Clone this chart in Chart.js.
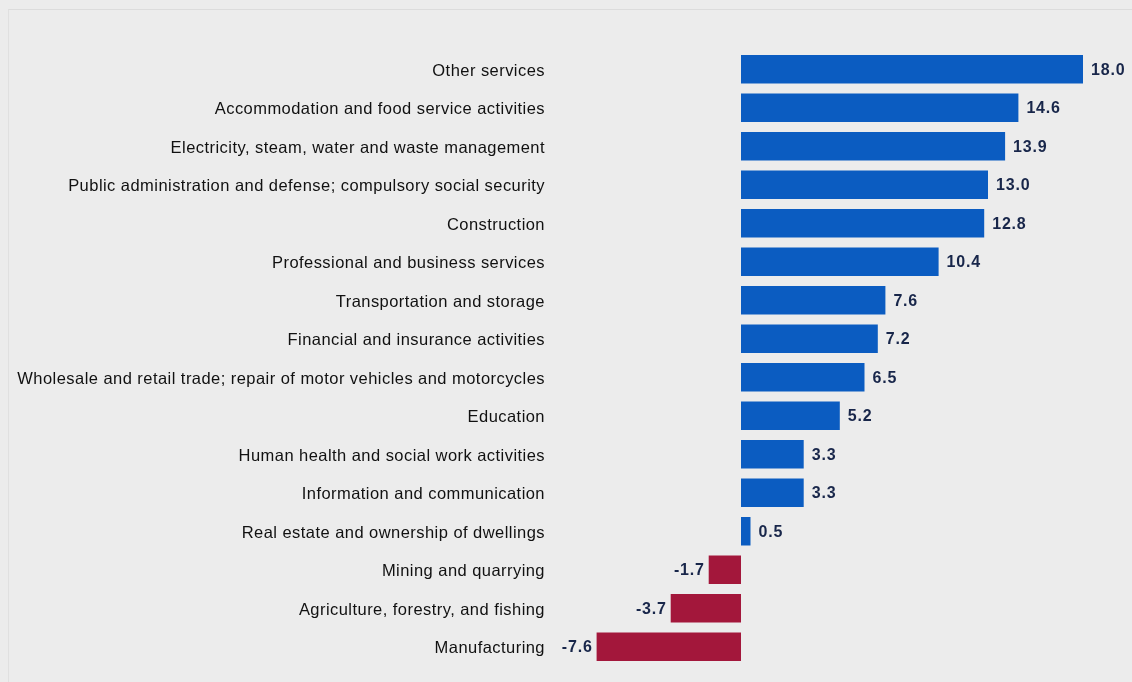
<!DOCTYPE html>
<html>
<head>
    <title>Growth by industry</title>
    <script src="https://cdn.jsdelivr.net/npm/chart.js"></script>
    <style>
        body {
            margin: 0;
            padding: 0;
            overflow: hidden;
            background-color: #ececec;
            font-family: 'Liberation Sans', Arial, sans-serif;
        }
        #chart-container {
            position: fixed;
            top: 0;
            left: 0;
            width: 1132px;
            height: 682px;
        }
        .frame {
            position: absolute;
            left: 8px;
            top: 9px;
            right: 0;
            bottom: 0;
            border-left: 1px solid #e0e0e0;
            border-top: 1px solid #dcdcdc;
        }
    </style>
</head>
<body>
    <div id="chart-container">
        <div class="frame"></div>
        <canvas id="myChart"></canvas>
    </div>

    <script>
        const categories = [
            'Other services',
            'Accommodation and food service activities',
            'Electricity, steam, water and waste management',
            'Public administration and defense; compulsory social security',
            'Construction',
            'Professional and business services',
            'Transportation and storage',
            'Financial and insurance activities',
            'Wholesale and retail trade; repair of motor vehicles and motorcycles',
            'Education',
            'Human health and social work activities',
            'Information and communication',
            'Real estate and ownership of dwellings',
            'Mining and quarrying',
            'Agriculture, forestry, and fishing',
            'Manufacturing'
        ];
        const values = [18.0, 14.6, 13.9, 13.0, 12.8, 10.4, 7.6, 7.2, 6.5, 5.2, 3.3, 3.3, 0.5, -1.7, -3.7, -7.6];

        const BLUE = '#0b5cc1';
        const RED = '#a3173b';

        // el texto del original es más ancho que Arial
        const wideText = {
            id: 'wideText',
            beforeDraw(chart) {
                chart.ctx.letterSpacing = '0.45px';
            }
        };

        // etiquetas de valor junto a cada barra
        const valueLabels = {
            id: 'valueLabels',
            afterDatasetsDraw(chart) {
                const c = chart.ctx;
                const meta = chart.getDatasetMeta(0);
                c.save();
                c.letterSpacing = '0.8px';
                c.font = "bold 16px 'Liberation Sans', Arial, sans-serif";
                c.fillStyle = '#18264a';
                c.textBaseline = 'middle';
                meta.data.forEach((bar, i) => {
                    const v = values[i];
                    const txt = v.toFixed(1);
                    if (v >= 0) {
                        c.textAlign = 'left';
                        c.fillText(txt, bar.x + 8, bar.y + 1);
                    } else {
                        c.textAlign = 'right';
                        c.fillText(txt, bar.x - 4, bar.y + 1);
                    }
                });
                c.restore();
            }
        };

        new Chart(document.getElementById('myChart'), {
            type: 'bar',
            data: {
                labels: categories,
                datasets: [{
                    data: values,
                    backgroundColor: values.map(v => v >= 0 ? BLUE : RED),
                    barPercentage: 0.74,
                    categoryPercentage: 1.0
                }]
            },
            options: {
                indexAxis: 'y',
                responsive: true,
                maintainAspectRatio: false,
                animation: false,
                layout: {
                    padding: { top: 50, bottom: 16, left: 0, right: 11 }
                },
                plugins: {
                    legend: { display: false },
                    tooltip: { enabled: false }
                },
                scales: {
                    x: {
                        display: false,
                        min: -10,
                        max: 20
                    },
                    y: {
                        grid: { display: false, drawTicks: false },
                        border: { display: false },
                        afterFit(scale) { scale.width = 551; },
                        ticks: {
                            color: '#111',
                            padding: 6,
                            labelOffset: 2,
                            font: { size: 16.5, family: "'Liberation Sans', Arial, sans-serif" }
                        }
                    }
                }
            },
            plugins: [wideText, valueLabels]
        });
    </script>
</body>
</html>
